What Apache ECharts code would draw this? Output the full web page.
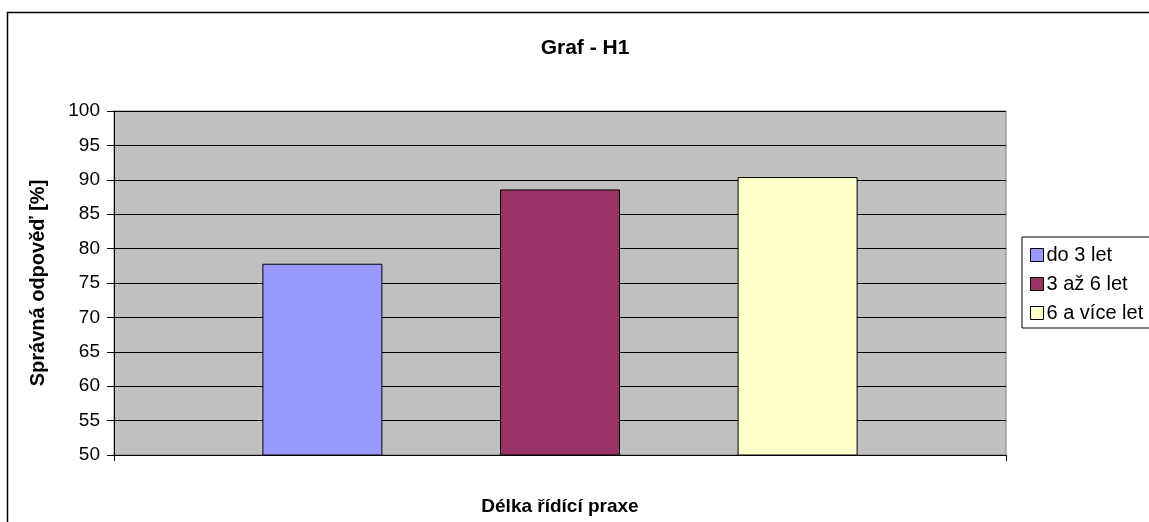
<!DOCTYPE html>
<html>
<head>
<meta charset="utf-8">
<script src="https://cdn.jsdelivr.net/npm/echarts@6/dist/echarts.min.js"></script>
<style>html,body{margin:0;padding:0;background:#fff}#c{width:1149px;height:522px}</style>
</head>
<body>
<div id="c"></div>
<script>
const categories = [''];
const seriesNames = ['do 3 let', '3 až 6 let', '6 a více let'];
const seriesValues = [[77.8], [88.6], [90.4]];
const seriesColors = ['#9999FF', '#993366', '#FFFFCC'];
const yTicks = { min: 50, max: 100, interval: 5 };

const chart = echarts.init(document.getElementById('c'));
const FONT = 'Liberation Sans, Arial, sans-serif';
chart.setOption({
  animation: false,
  backgroundColor: '#fff',
  title: {
    text: 'Graf - H1', left: 580, top: 33, textAlign: 'center',
    textStyle: { fontFamily: FONT, fontSize: 21, fontWeight: 'bold', color: '#000' }
  },
  graphic: [{
    type: 'rect', z: -1, silent: true,
    shape: { x: 7.5, y: 12.5, width: 1300, height: 700 },
    style: { fill: 'none', stroke: '#000', lineWidth: 1.5 }
  }],
  legend: {
    orient: 'vertical', left: 1022, top: 237,
    data: seriesNames,
    itemWidth: 13, itemHeight: 13, itemGap: 9,
    padding: [8, 40, 5, 8],
    borderColor: '#000', borderWidth: 1, backgroundColor: '#fff',
    icon: 'rect',
    itemStyle: { borderColor: '#000', borderWidth: 1 },
    textStyle: { fontFamily: FONT, fontSize: 20, color: '#000', padding: [0, 0, 0, -2] }
  },
  grid: {
    left: 114, top: 111, width: 892, height: 344, show: true,
    backgroundColor: '#C0C0C0', borderColor: '#808080', borderWidth: 1
  },
  xAxis: {
    type: 'category', data: categories,
    name: 'Délka řídící praxe', nameLocation: 'middle', nameGap: 42,
    nameTextStyle: { fontFamily: FONT, fontSize: 19, fontWeight: 'bold', color: '#000' },
    axisLine: { lineStyle: { color: '#000', width: 1 } },
    axisTick: { show: true, length: 6, lineStyle: { color: '#000' } },
    axisLabel: { show: false }
  },
  yAxis: {
    type: 'value', min: yTicks.min, max: yTicks.max, interval: yTicks.interval,
    name: 'Správná odpověď [%]', nameLocation: 'middle', nameGap: 66,
    nameTextStyle: { fontFamily: FONT, fontSize: 20, fontWeight: 'bold', color: '#000' },
    axisLine: { show: true, lineStyle: { color: '#000', width: 1 } },
    axisTick: { show: true, length: 7, lineStyle: { color: '#000' } },
    axisLabel: { fontFamily: FONT, fontSize: 19, color: '#000', margin: 14 },
    splitLine: { show: true, lineStyle: { color: '#000', width: 1 } }
  },
  series: seriesNames.map((n, i) => ({
    name: n, type: 'bar', data: seriesValues[i],
    barWidth: 120, barGap: '98%',
    itemStyle: { color: seriesColors[i], borderColor: '#000', borderWidth: 1 }
  }))
});
</script>
</body>
</html>
